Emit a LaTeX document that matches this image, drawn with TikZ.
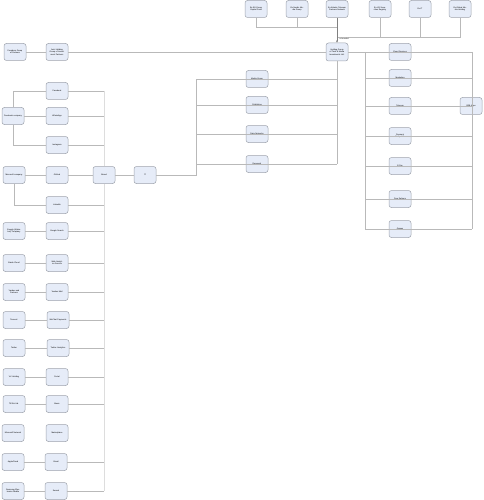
\documentclass[tikz,border=0pt]{standalone}
\usepackage{fontspec}
\setmainfont{Liberation Sans}
\usepackage{tikz}
\usetikzlibrary{arrows.meta}
\definecolor{boxfill}{HTML}{E6ECF8}
\definecolor{boxline}{HTML}{9EA3AD}
\definecolor{wire}{HTML}{B9B9B9}
\definecolor{pale}{HTML}{DDDDDD}

\begin{document}
\begin{tikzpicture}[
    x=1pt,y=-1pt,
    box/.style={draw=boxline, fill=boxfill, rounded corners=2.5pt, line width=0.5pt,
      minimum width=22pt, minimum height=17pt, text width=18pt, align=center,
      inner sep=0.5pt, font=\fontsize{2}{2.5}\selectfont},
    wire/.style={draw=wire, line width=0.6pt},
    pale/.style={draw=pale, line width=0.6pt}
    ]
    \useasboundingbox (0,0) rectangle (483,500);
    % top row
    \node[box] (t1) at (256,9) {Ex-EU Group Capital Fund};
    \node[box] (t2) at (297,9) {Ex-Nordic Media Group};
    \node[box] (t3) at (337,9) {Ex-Atlantic Telecom Partners Network};
    \node[box] (t4) at (380,9) {Ex-US Securities Registry};
    \node[box] (t5) at (420,9) {Ex-IT};
    \node[box] (t6) at (460,9) {Ex-Global Media Holding};
    % holding row
    \node[box] (fnd) at (15,52) {Founders Group of Partners};
    \node[box] (joint) at (57,52) {Joint Holding Group of Investment Partners};
    \node[box, minimum height=18pt] (hub) at (337,52) {Holding Group of Tech \& Media Investments Ltd.};
    \coordinate (upper) at (0,27);
    \coordinate (lower) at (0,37);
    \draw[wire] (t1.south) |- (t3.south |- upper);
    \draw[wire] (t2.south) -- (t2.south |- upper);
    \draw[wire] (t6.south) |- (t3.south |- lower);
    \draw[wire] (t4.south) -- (t4.south |- lower);
    \draw[wire] (t5.south) -- (t5.south |- lower);
    \draw[wire, -{Latex[length=2pt,width=2pt]}, draw=gray] (t3.south) -- (hub.north);
    \node[font=\fontsize{1.8}{2}\selectfont, anchor=west, inner sep=0.5pt] (tag) at (339,39) {re-branded};
    \draw[wire] (fnd) -- (joint);
    \draw[wire] (joint) -- (hub);
    % middle column
    \node[box] (mg) at (257,79) {Media Group};
    \node[box] (pub) at (257,105) {Publishing};
    \node[box] (dn) at (257,134) {Data Networks};
    \node[box] (res) at (257,164) {Research};
    \coordinate (midbus) at (196,0);
    \foreach \n in {mg,pub,dn,res}
      \draw[wire] (\n.west -| midbus) -- (\n.east -| hub.south);
    \draw[wire] (hub.south) -- (hub.south |- res.east);
    % right block
    \node[box] (cs) at (400,52) {Cloud Services};
    \node[box] (mkt) at (400,78) {Marketing};
    \node[box] (tel) at (400,106) {Telecom};
    \node[box] (pay) at (400,136) {Payment Group Ltd.};
    \node[box] (epay) at (400,166) {E-Pay};
    \node[box] (del) at (400,199) {Free Delivery};
    \node[box] (gam) at (400,229) {Games};
    \node[box] (b2b) at (471,106) {B2B Apps};
    \coordinate (rl) at (365,0);
    \coordinate (rr) at (472,0);
    \draw[wire] (hub.east) -- (cs.west -| rl);
    \draw[wire] (cs.west -| rl) -- (gam.west -| rl);
    \draw[wire] (cs.east -| rr) -- (gam.east -| rr);
    \foreach \n in {cs,mkt,tel,pay,epay,del,gam}
      \draw[wire] (\n.west -| rl) -- (\n.east -| rr);
    % left tree
    \node[box] (fbco) at (13,116) {Facebook company};
    \node[box] (fb) at (57,91) {Facebook};
    \node[box] (wa) at (57,116) {WhatsApp};
    \node[box] (ig) at (57,145) {Instagram};
    \node[box] (msco) at (14,175) {Microsoft company};
    \node[box] (gh) at (57,175) {GitHub};
    \node[box] (li) at (57,205) {LinkedIn};
    \node[box] (brand) at (104,175) {Brand};
    \node[box] (it) at (145,175) {IT};
    \coordinate (bus) at (104,0);
    \draw[wire] (fbco.north) |- (fb.west);
    \draw[wire] (fbco.south) |- (ig.west);
    \draw[wire] (fbco) -- (wa);
    \draw[wire] (msco) -- (gh);
    \draw[wire] (msco.south) |- (li.west);
    \draw[wire] (gh) -- (brand);
    \draw[wire] (brand) -- (it);
    \draw[wire] (it) -- (it.east -| midbus) -- (mg.west -| midbus);
    \foreach \n in {fb,wa,ig,li}
      \draw[wire] (\n.east) -- (\n.east -| bus);
    % company list
    \node[box] (c1) at (14,231) {Google (Alphabet) Company};
    \node[box] (d1) at (57,231) {Google Search};
    \node[box] (c2) at (14,263) {Baidu Cloud};
    \node[box] (d2) at (57,263) {Web Analytics Service};
    \node[box] (c3) at (14,292) {Yandex and Partners};
    \node[box] (d3) at (57,292) {Yandex Mail};
    \node[box] (c4) at (14,320) {Tencent};
    \node[box] (d4) at (58,320) {WeChat Payments};
    \node[box] (c5) at (14,348) {Twitter};
    \node[box] (d5) at (58,348) {Twitter Analytics};
    \node[box] (c6) at (14,377) {VK Holding};
    \node[box] (d6) at (57,377) {Portal};
    \node[box] (c7) at (14,404) {TikTok Ltd.};
    \node[box] (d7) at (57,404) {Music};
    \node[box] (c8) at (13,433) {Microsoft Network};
    \node[box] (d8) at (57,433) {Marketplace};
    \node[box] (c9) at (13,462) {AppleCloud};
    \node[box] (d9) at (56,462) {Email};
    \node[box] (c10) at (13,491) {Samsung Electronics Mobile};
    \node[box] (d10) at (56,491) {Search};
    \foreach \i in {1,...,7,9,10}{
      \draw[wire] (c\i) -- (d\i);
      \draw[wire] (d\i.east) -- (d\i.east -| bus);
    }
    \draw[pale] (fb.east -| bus) -- (brand.north);
    \draw[pale] (brand.south) -- (d10.east -| bus);
  \end{tikzpicture}
\end{document}
